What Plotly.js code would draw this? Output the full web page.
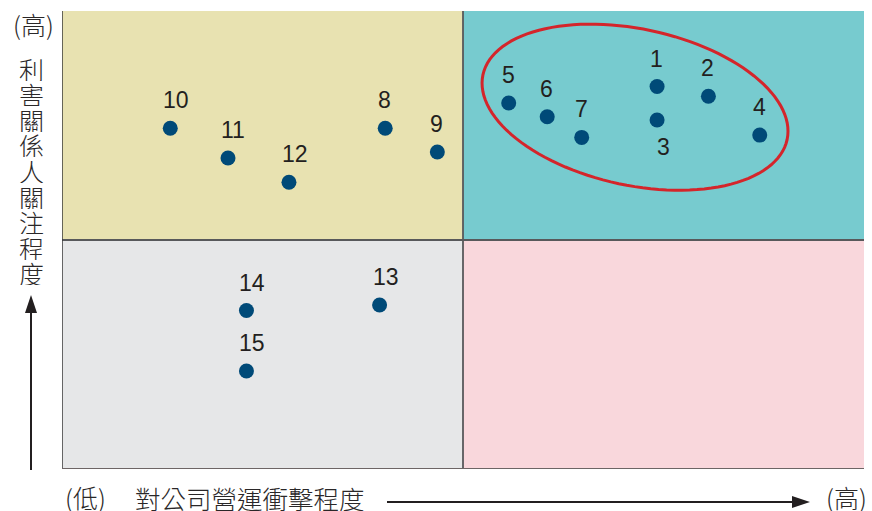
<!DOCTYPE html>
<html>
<head>
<meta charset="utf-8">
<script src="https://cdn.plot.ly/plotly-3.0.1.min.js"></script>
<style>html,body{margin:0;padding:0;background:#fff;}#chart{width:872px;height:511px;}</style>
</head>
<body>
<div id="chart"></div>
<script>
// ---- data ----
const labels = ["1","2","3","4","5","6","7","8","9","10","11","12","13","14","15"];
const xImpact = [7.42, 8.06, 7.42, 8.70, 5.57, 6.05, 6.48, 4.03, 4.68, 1.35, 2.07, 2.83, 3.96, 2.30, 2.30];
const yConcern = [8.35, 8.14, 7.62, 7.29, 7.99, 7.69, 7.24, 7.44, 6.92, 7.44, 6.79, 6.26, 3.58, 3.46, 2.14];
const labelBelow = ["3"];
const yTitle = "利害關係人關注程度";
const xTitle = "對公司營運衝擊程度";
const highText = "(高)";
const lowText = "(低)";

// ---- layout geometry ----
const W = 872, H = 511;
const M = {l: 62, r: 8, t: 11, b: 42};
const PW = W - M.l - M.r, PH = H - M.t - M.b;
const px = v => (v - M.l) / PW;          // pixel x -> paper
const py = v => (H - M.b - v) / PH;      // pixel y -> paper
const XR = [0, 10], YR = [0, 10];
const ux = PW / (XR[1] - XR[0]), uy = PH / (YR[1] - YR[0]);

const cjk = '"Noto Sans CJK TC", "Noto Sans CJK SC", sans-serif';
const txtColor = '#2a2728';

const shapes = [];
// quadrants
const quad = [
  {x0: 0, x1: 5, y0: 5, y1: 10, c: '#e8e2b1'},
  {x0: 5, x1: 10, y0: 5, y1: 10, c: '#77cbcf'},
  {x0: 0, x1: 5, y0: 0, y1: 5, c: '#e6e7e8'},
  {x0: 5, x1: 10, y0: 0, y1: 5, c: '#f9d7dc'}
];
quad.forEach(q => shapes.push({type: 'rect', xref: 'x', yref: 'y', x0: q.x0, x1: q.x1, y0: q.y0, y1: q.y1,
  fillcolor: q.c, line: {width: 0}, layer: 'below'}));
// dividers & frame
const lc = '#58595b';
shapes.push({type: 'line', xref: 'x', yref: 'y', x0: 5, x1: 5, y0: 0, y1: 10, line: {color: lc, width: 1.8}, layer: 'below'});
shapes.push({type: 'line', xref: 'x', yref: 'y', x0: 0, x1: 10, y0: 5, y1: 5, line: {color: lc, width: 1.8}, layer: 'below'});
shapes.push({type: 'line', xref: 'x', yref: 'y', x0: 0, x1: 0, y0: 0, y1: 10, line: {color: '#3a3a3a', width: 1.5}, layer: 'below'});
shapes.push({type: 'line', xref: 'x', yref: 'y', x0: 0, x1: 10, y0: 0, y1: 0, line: {color: '#6d6565', width: 2}, layer: 'below'});

// ellipse around high/high group (tilted)
(function(){
  const cx = 7.145, cy = 7.90, a = 155.5, b = 78.2, th = 12 * Math.PI / 180; // semi-axes in px
  let d = '';
  for (let i = 0; i <= 120; i++) {
    const t = i / 120 * 2 * Math.PI;
    const ex = a * Math.cos(t), ey = b * Math.sin(t);
    const rx = ex * Math.cos(th) - ey * Math.sin(th);
    const ry = ex * Math.sin(th) + ey * Math.cos(th); // screen-down positive
    const X = cx + rx / ux, Y = cy - ry / uy;
    d += (i === 0 ? 'M' : 'L') + X.toFixed(4) + ',' + Y.toFixed(4);
  }
  d += 'Z';
  shapes.push({type: 'path', xref: 'x', yref: 'y', path: d, line: {color: '#d4252b', width: 3}, fillcolor: 'rgba(0,0,0,0)'});
})();

// arrows
const ac = '#231f20';
// vertical arrow
shapes.push({type: 'line', xref: 'paper', yref: 'paper', x0: px(31), x1: px(31), y0: py(470), y1: py(308), line: {color: ac, width: 2}});
shapes.push({type: 'path', xref: 'paper', yref: 'paper', fillcolor: ac, line: {width: 0},
  path: `M${px(31)},${py(295)} L${px(25)},${py(313)} L${px(37)},${py(313)} Z`});
// horizontal arrow
shapes.push({type: 'line', xref: 'paper', yref: 'paper', x0: px(387), x1: px(796), y0: py(502), y1: py(502), line: {color: ac, width: 2}});
shapes.push({type: 'path', xref: 'paper', yref: 'paper', fillcolor: ac, line: {width: 0},
  path: `M${px(810)},${py(502)} L${px(792)},${py(496)} L${px(792)},${py(508)} Z`});

const annotations = [];
// point labels
labels.forEach((l, i) => {
  const below = labelBelow.includes(l);
  annotations.push({x: xImpact[i], y: yConcern[i], xref: 'x', yref: 'y', text: l, showarrow: false,
    xanchor: 'left', yanchor: 'middle', xshift: below ? -2 : -9, yshift: below ? -27 : 28,
    font: {family: 'Liberation Sans, Arial, sans-serif', size: 23, color: '#231f20'}});
});
// y title (vertical characters)
annotations.push({x: px(33), y: py(24), xref: 'paper', yref: 'paper', text: highText, showarrow: false,
  xanchor: 'center', yanchor: 'middle', font: {family: cjk, size: 25, color: txtColor, weight: 300}});
Array.from(yTitle).forEach((ch, i) => {
  annotations.push({x: px(31), y: py(68 + i * 25.6), xref: 'paper', yref: 'paper', text: ch, showarrow: false,
    xanchor: 'center', yanchor: 'middle', height: 25, borderpad: 0,
    font: {family: cjk, size: 25, color: txtColor, weight: 300}});
});
// x title
const bottomY = 497.5;
annotations.push({x: px(85), y: py(bottomY), xref: 'paper', yref: 'paper', text: lowText, showarrow: false,
  xanchor: 'center', yanchor: 'middle', font: {family: cjk, size: 25, color: txtColor, weight: 300}});
annotations.push({x: px(250), y: py(bottomY), xref: 'paper', yref: 'paper', text: xTitle, showarrow: false,
  xanchor: 'center', yanchor: 'middle', font: {family: cjk, size: 25.5, color: txtColor, weight: 300}});
annotations.push({x: px(846), y: py(bottomY), xref: 'paper', yref: 'paper', text: highText, showarrow: false,
  xanchor: 'center', yanchor: 'middle', font: {family: cjk, size: 25, color: txtColor, weight: 300}});

const trace = {
  type: 'scatter', mode: 'markers', x: xImpact, y: yConcern, text: labels,
  marker: {size: 15, color: '#004a78'}, hoverinfo: 'text', cliponaxis: false
};

const layout = {
  width: W, height: H, margin: M, paper_bgcolor: '#ffffff', plot_bgcolor: 'rgba(0,0,0,0)',
  showlegend: false,
  xaxis: {range: XR, showgrid: false, zeroline: false, showticklabels: false, ticks: '', showline: false, fixedrange: true},
  yaxis: {range: YR, showgrid: false, zeroline: false, showticklabels: false, ticks: '', showline: false, fixedrange: true},
  shapes: shapes, annotations: annotations
};

Plotly.newPlot('chart', [trace], layout, {displayModeBar: false, staticPlot: true});
</script>
</body>
</html>
